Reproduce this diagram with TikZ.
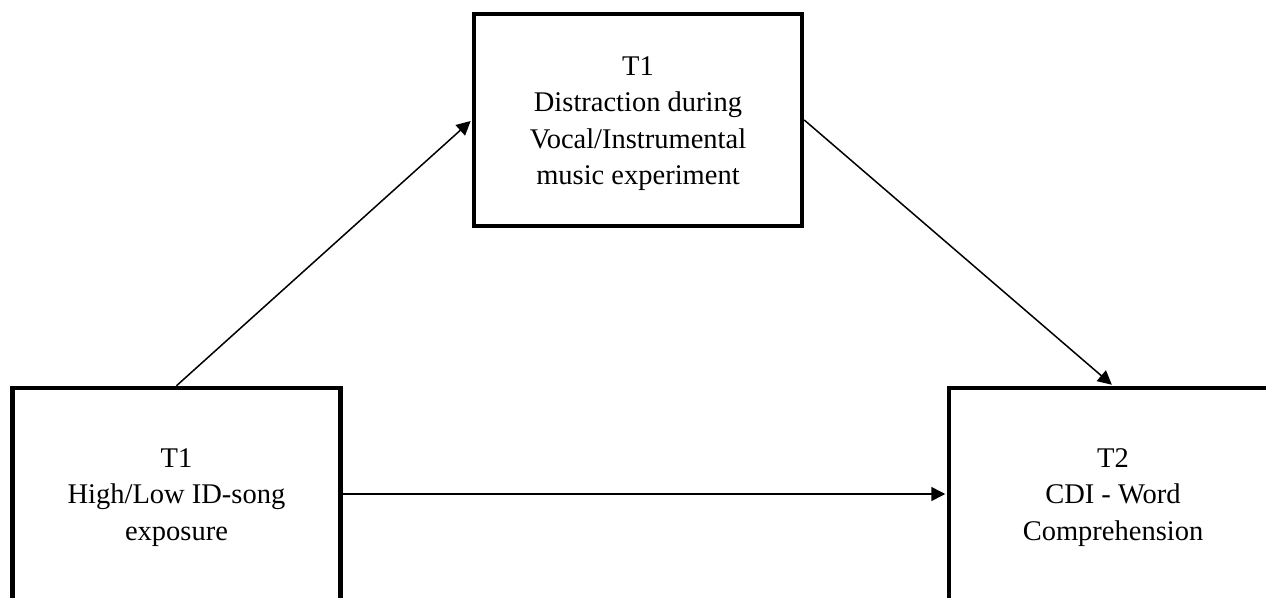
\documentclass[tikz,border=0pt]{standalone}
\usepackage{fontspec}
\setmainfont{Liberation Serif}
\usetikzlibrary{arrows.meta}
\newcommand{\toppad}{\rule{0pt}{26pt}}
\tikzset{
  varbox/.style={draw, line width=4.5pt, rectangle, minimum width=328pt, minimum height=212pt,
    align=center, inner sep=0pt, font=\fontsize{28.5}{36.5}\selectfont},
  path/.style={line width=1.5pt, -{Triangle[length=14pt,width=14pt]}, shorten >=1.5pt}
}
\begin{document}
\begin{tikzpicture}[x=1pt,y=-1pt]
\useasboundingbox (0,0) rectangle (1266,597);
\clip (0,0) rectangle (1266,597);
\node[varbox] (med) at (638,120) {\toppad T1\\Distraction during\\Vocal/Instrumental\\music experiment};
\node[varbox] (pred) at (176.5,494) {\toppad T1\\High/Low ID-song\\exposure};
\node[varbox] (out) at (1113,494) {\toppad T2\\CDI - Word\\Comprehension};
\draw[path] (pred.north) -- (med.west);
\draw[path] (med.east) -- (out.north);
\draw[path] (pred.east) -- (out.west);
\end{tikzpicture}
\end{document}
